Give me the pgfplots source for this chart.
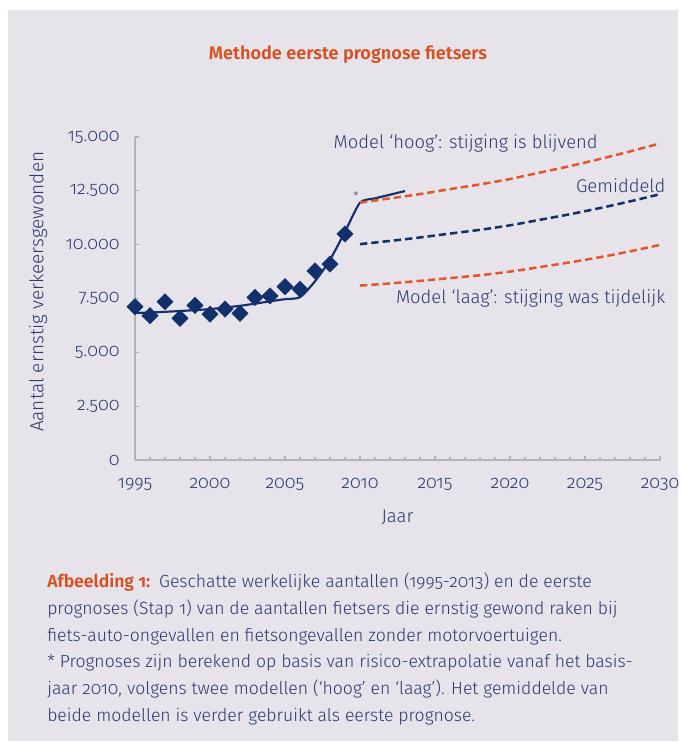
\documentclass[border=0pt]{standalone}
\usepackage{fontspec}
\setmainfont{Fira Sans Light}[BoldFont={Fira Sans SemiBold}, Numbers={OldStyle,Proportional}]
\usepackage{pgfplots}
\pgfplotsset{compat=1.18}
\definecolor{bg}{HTML}{E6E3EA}
\definecolor{navy}{HTML}{12306B}
\definecolor{txt}{HTML}{2A3A70}
\definecolor{org}{HTML}{E4572B}
\definecolor{ttl}{HTML}{D94F1E}
\definecolor{axc}{HTML}{B4B2B8}
\newcommand\fs{\fontsize{13.2pt}{15pt}\selectfont}
\newcommand\fa{\fontsize{13.8pt}{16pt}\selectfont}
\newcommand\ft{\fontsize{13.5pt}{16pt}\selectfont}
\begin{document}
\begin{tikzpicture}[x=0.75pt,y=-0.75pt]
\fill[white] (0,0) rectangle (678,743);
\fill[bg] (8,10) rectangle (678,741);
\node[font=\fontsize{13.6pt}{16pt}\selectfont\bfseries, text=ttl] at (348,55) {Methode eerste prognose fietsers};
\begin{axis}[
  at={(101.25pt,-345pt)}, anchor=south west,
  width=393.75pt, height=242.25pt, scale only axis,
  xmin=1995, xmax=2030, ymin=0, ymax=15000,
  axis lines=left, axis line style={axc, line width=1.1pt, -},
  xtick={1995,2000,...,2030}, minor x tick num=4,
  ytick={0,2500,...,15000},
  tick align=inside, major tick length=3pt, minor tick length=2pt,
  tick style={axc, line width=0.8pt},
  /pgf/number format/assume math mode=true,
  yticklabel style={/pgf/number format/1000 sep={.}, font=\ft, text=txt, xshift=-8pt},
  xticklabel style={/pgf/number format/1000 sep={}, font=\ft, text=txt, yshift=-10.5pt},
  scaled y ticks=false,
  xlabel={Jaar}, ylabel={Aantal ernstig verkeersgewonden},
  xlabel style={font=\fa, text=txt, yshift=-7pt},
  ylabel style={font=\fontsize{14.2pt}{16pt}\selectfont, text=txt, yshift=7pt, xshift=5pt},
  clip=false,
]
\addplot[navy, line width=1.6pt, smooth, tension=0.4] coordinates {
 (1995,6830) (1996,6850) (1997,6880) (1998,6920) (1999,6960) (2000,7010)
 (2001,7080) (2002,7160) (2003,7260) (2004,7370) (2005,7470) (2006,7560)
 (2007,8300) (2008,9300) (2009,10600) (2010,11950) (2011,12150) (2012,12320) (2013,12490)};
\addplot[only marks, mark=square*, mark size=4.3pt, mark options={rotate=45, fill=navy, draw=navy}] coordinates {
 (1995,7120) (1996,6700) (1997,7350) (1998,6580) (1999,7180) (2000,6770)
 (2001,7010) (2002,6810) (2003,7550) (2004,7620) (2005,8050) (2006,7930)
 (2007,8780) (2008,9100) (2009,10500)};
\addplot[org, line width=1.9pt, dash pattern=on 5.5pt off 3pt, smooth] coordinates {
 (2010,11950) (2012,12150) (2014,12350) (2016,12580) (2018,12800) (2020,13050)
 (2022,13350) (2024,13650) (2026,13980) (2028,14330) (2030,14700)};
\addplot[navy, line width=1.9pt, dash pattern=on 5.5pt off 3pt, smooth] coordinates {
 (2010,10025) (2012,10175) (2014,10335) (2016,10515) (2018,10690) (2020,10900)
 (2022,11155) (2024,11415) (2026,11700) (2028,12010) (2030,12345)};
\addplot[org, line width=1.9pt, dash pattern=on 5.5pt off 3pt, smooth] coordinates {
 (2010,8100) (2012,8200) (2014,8320) (2016,8450) (2018,8580) (2020,8750)
 (2022,8960) (2024,9180) (2026,9420) (2028,9690) (2030,9990)};
\end{axis}
\node[font=\fa, text=txt, anchor=west] at (329,143) {Model ‘hoog’: stijging is blijvend};
\node[font=\fa, text=txt, anchor=east] at (670,186) {Gemiddeld};
\node[font=\fa, text=txt, anchor=east] at (670,298) {Model ‘laag’: stijging was tijdelijk};
\node[font=\fontsize{9pt}{10pt}\selectfont, text=txt] at (356,196) {*};
\begin{scope}[every node/.style={font=\fs, text=txt, anchor=base west, inner sep=0pt}]
\node at (47,587) {{\bfseries\color{ttl}Afbeelding 1:}\hspace{0.5em}Geschatte werkelijke aantallen (1995-2013) en de eerste};
\node at (47,614) {prognoses (Stap 1) van de aantallen fietsers die ernstig gewond raken bij};
\node at (47,641) {fiets-auto-ongevallen en fietsongevallen zonder motorvoertuigen.};
\node at (47,667) {* Prognoses zijn berekend op basis van risico-extrapolatie vanaf het basis-};
\node at (47,694) {jaar 2010, volgens twee modellen (‘hoog’ en ‘laag’). Het gemiddelde van};
\node at (47,721) {beide modellen is verder gebruikt als eerste prognose.};
\end{scope}
\end{tikzpicture}
\end{document}
